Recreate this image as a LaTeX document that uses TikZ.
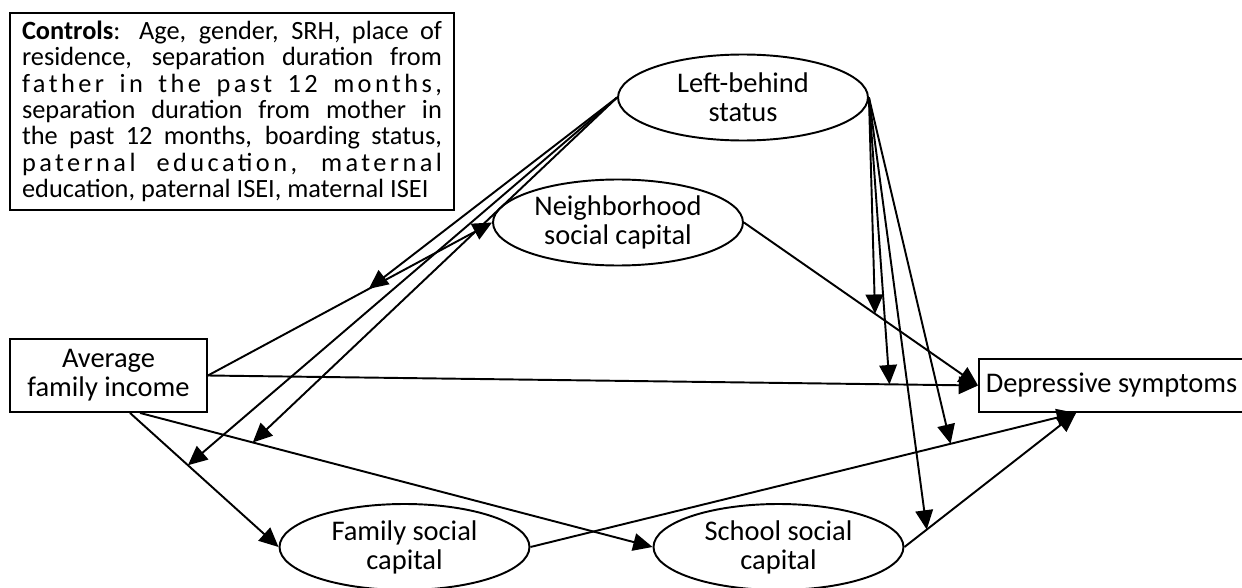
\documentclass[tikz,border=0pt]{standalone}
\usepackage{fontspec}
\setmainfont{Carlito}
\usetikzlibrary{arrows.meta,shapes.geometric,calc}
\tikzset{
  varbox/.style={draw,line width=1.1pt,font=\fontsize{16.2}{16.5}\selectfont,align=center,inner sep=0pt},
  varell/.style={ellipse,draw,line width=1.1pt,minimum width=5cm,minimum height=1.72cm,inner sep=0pt,font=\fontsize{16.2}{16.5}\selectfont,align=center},
  pth/.style={-{Triangle[length=11pt,width=10pt]},line width=1.1pt}
}
\newcommand{\spread}[1]{{\addfontfeature{LetterSpace=13}#1}}

\begin{document}
\begin{tikzpicture}[x=0.02cm,y=-0.02cm]
\useasboundingbox (0,0) rectangle (1242,588);
\node[varbox,line width=1.4pt,minimum width=8.88cm,minimum height=3.94cm] (ctl) at (232,111.5) {\parbox{239pt}{\fontsize{15}{15}\selectfont
\textbf{Controls}: Age, gender, SRH, place of\linebreak
residence, separation duration from\linebreak
\spread{father in the past 12 months,}\linebreak
separation duration from mother in\linebreak
the past 12 months, boarding status,\linebreak
\spread{paternal education, maternal}\linebreak
education, paternal ISEI, maternal ISEI}};
\node[varbox,minimum width=3.94cm,minimum height=1.46cm] (inc) at (108.5,375.5) {Average\\family income};
\node[varbox,minimum width=5.3cm,minimum height=1.06cm] (dep) at (1111.5,385.5) {Depressive symptoms};
\node[varell] (lb) at (743,97.5) {Left-behind\\status};
\node[varell] (nb) at (618,222.5) {Neighborhood\\social capital};
\node[varell] (fam) at (404.5,547) {Family social\\capital};
\node[varell] (sch) at (778.5,547) {School social\\capital};
\coordinate (depin) at ($(dep.south west)+(98,0)$);
% direct paths
\draw[pth] (inc.east) -- coordinate[pos=0.566] (m1) (nb.west);
\draw[pth] (inc.east) -- coordinate[pos=0.885] (m2) (dep.west);
\draw[pth] ($(inc.south)+(21.5,0)$) -- coordinate[pos=0.39] (m3) (fam.west);
\draw[pth] ($(inc.south)+(31.5,0)$) -- coordinate[pos=0.22] (m4) (sch.west);
\draw[pth] (nb.east) -- coordinate[pos=0.56] (m5) (dep.west);
\draw[pth] (fam.east) -- coordinate[pos=0.77] (m6) (depin);
\draw[pth] (sch.east) -- coordinate[pos=0.13] (m7) (depin);
% moderation by left-behind status
\foreach \m in {m1,m3,m4}{\draw[pth] (lb.west) -- (\m);}
\foreach \m in {m2,m5,m6,m7}{\draw[pth] (lb.east) -- (\m);}
\end{tikzpicture}
\end{document}
